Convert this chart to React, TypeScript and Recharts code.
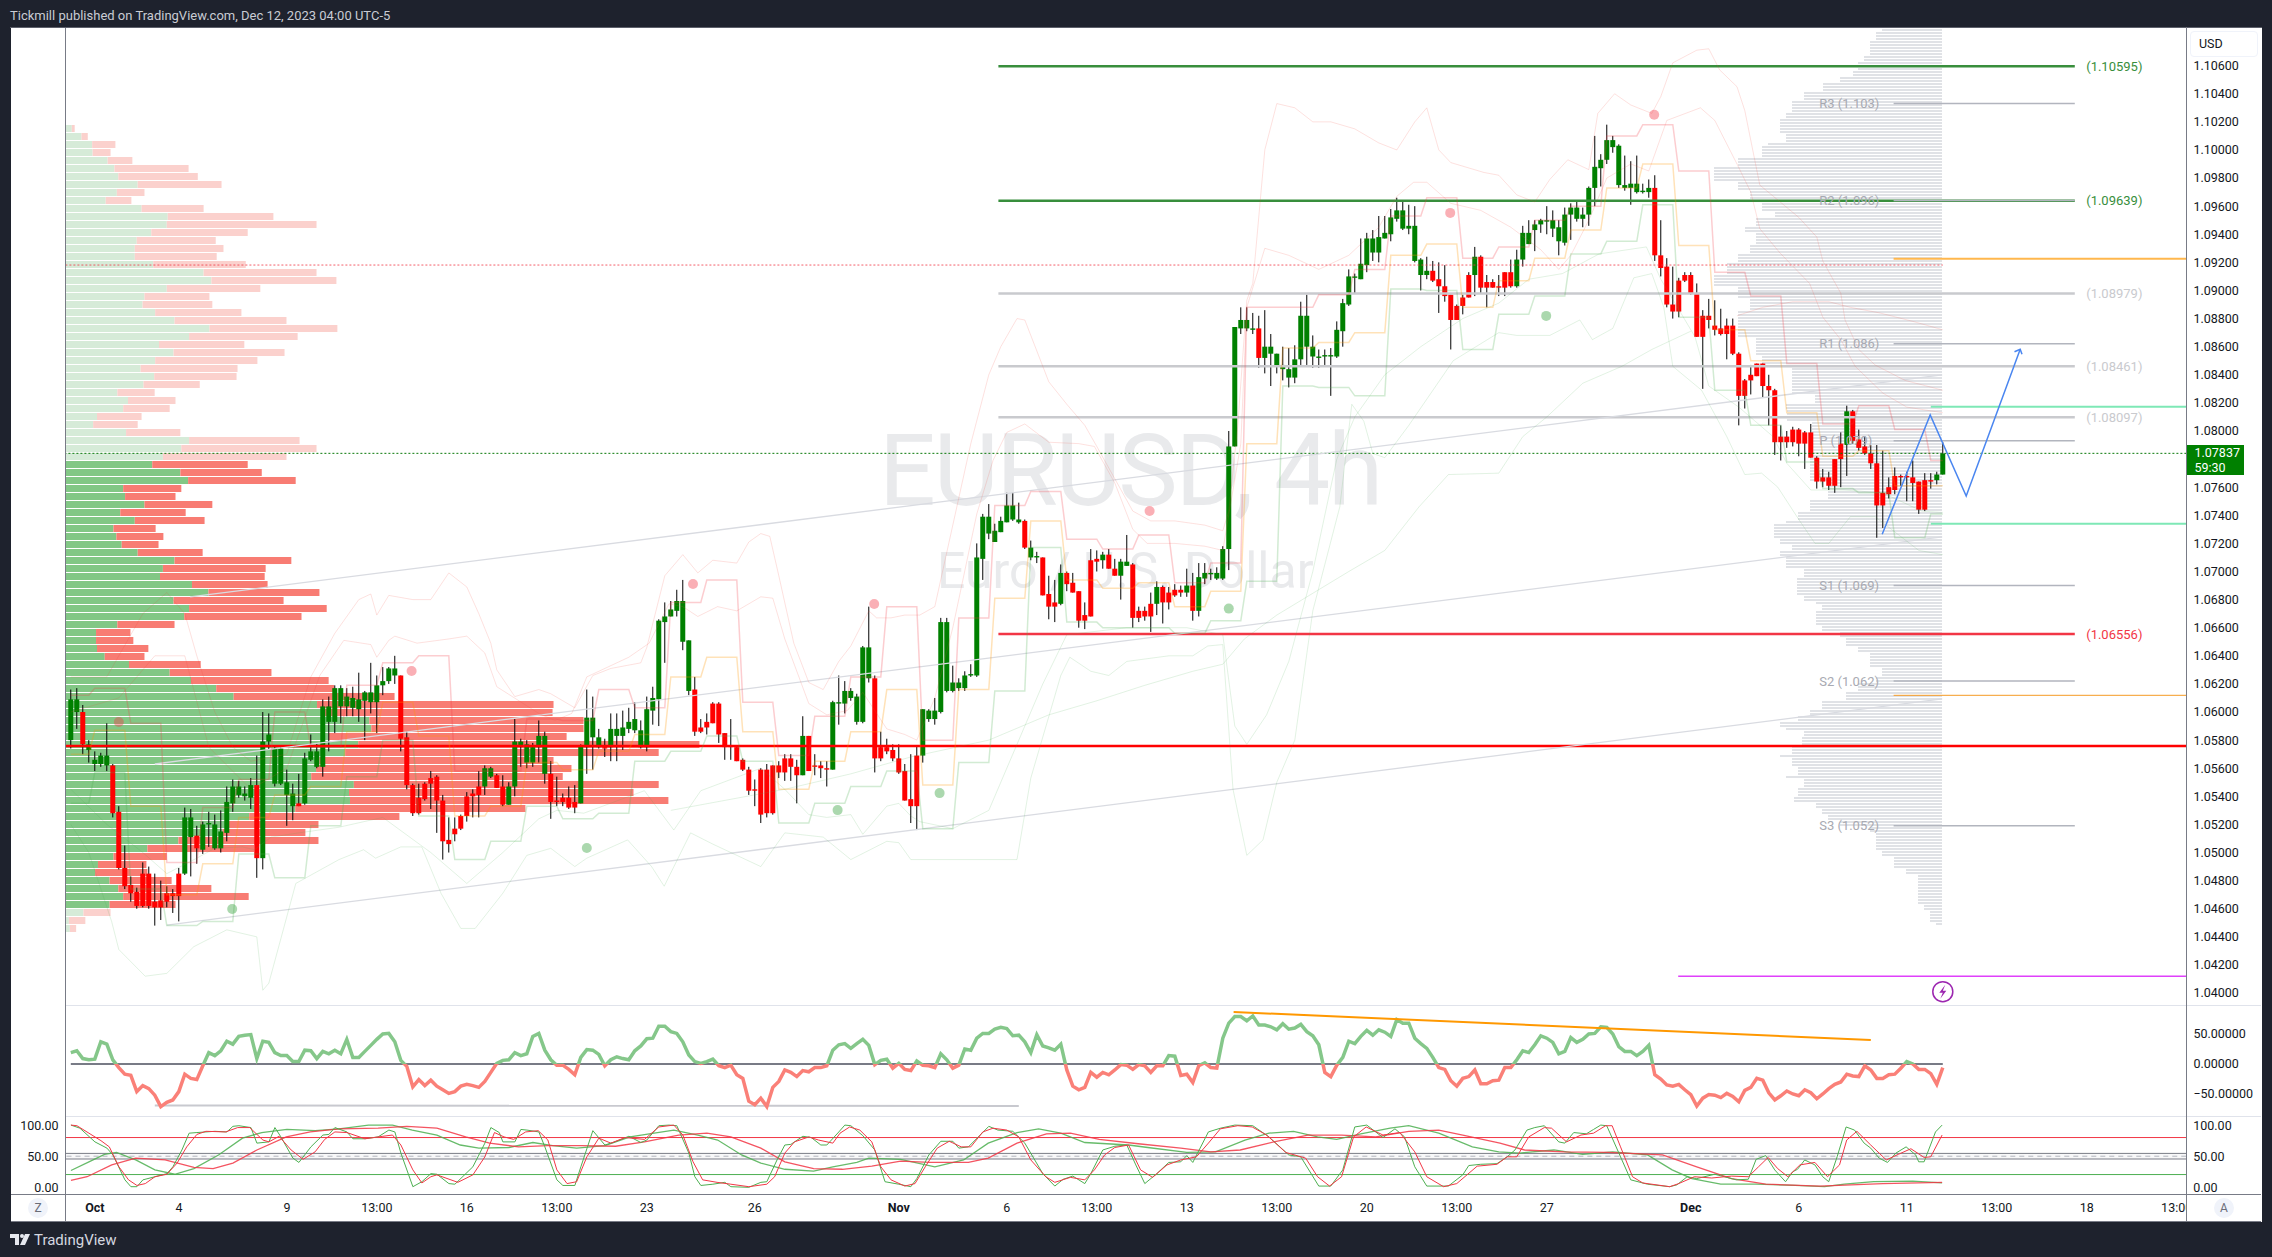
import { BarChart, Bar, Cell, ComposedChart, Line, ReferenceArea, ReferenceDot, ReferenceLine, Scatter, XAxis, YAxis } from "recharts";

// quotes in 1/10000 of a dollar, one entry per 4h bar
const opens = [10580,10600,10600,10573,10563,10563,10562,10562,10529,10489,10477,10472,10485,10485,10465,10466,10471,10471,10485,10485,10511,10512,10502,10520,10503,10503,10514,10535,10541,10540,10539,10548,10496,10579,10549,10549,10541,10533,10535,10535,10566,10561,10561,10593,10593,10604,10604,10603,10602,10608,10607,10607,10619,10622,10626,10626,10582,10548,10539,10549,10553,10554,10537,10509,10517,10526,10540,10542,10547,10547,10554,10555,10547,10534,10547,10576,10564,10564,10575,10556,10556,10537,10539,10539,10536,10535,10575,10582,10575,10575,10575,10583,10583,10588,10587,10575,10575,10601,10609,10664,10668,10672,10650,10615,10616,10589,10593,10606,10606,10585,10576,10575,10566,10559,10545,10559,10559,10562,10562,10567,10567,10561,10555,10583,10562,10562,10560,10559,10606,10606,10610,10593,10593,10624,10624,10575,10575,10573,10567,10558,10538,10569,10569,10595,10595,10600,10615,10615,10617,10617,10626,10626,10709,10727,10721,10728,10735,10737,10735,10736,10710,10710,10710,10684,10678,10677,10699,10692,10686,10669,10708,10709,10708,10712,10702,10697,10704,10705,10672,10672,10677,10677,10689,10685,10687,10687,10685,10690,10672,10695,10698,10695,10695,10716,10789,10873,10873,10872,10873,10852,10855,10846,10844,10838,10838,10851,10860,10853,10852,10853,10853,10853,10871,10890,10909,10908,10918,10927,10927,10937,10940,10951,10944,10944,10921,10911,10911,10914,10908,10903,10897,10889,10895,10911,10911,10924,10906,10906,10903,10913,10913,10903,10922,10933,10943,10947,10949,10944,10935,10934,10954,10951,10951,10954,10973,10987,10993,11002,10975,10973,10973,10970,10970,10970,10973,10925,10917,10890,10907,10911,10911,10898,10882,10882,10875,10873,10875,10875,10855,10836,10840,10848,10848,10832,10829,10796,10796,10801,10801,10799,10799,10781,10767,10767,10780,10791,10790,10814,10794,10789,10784,10777,10756,10760,10768,10768,10768,10767,10764,10765,10765,10765,10769];
const closes = [10609,10609,10577,10577,10566,10569,10569,10528,10489,10476,10471,10462,10462,10462,10461,10461,10465,10469,10469,10525,10525,10503,10520,10521,10520,10515,10536,10547,10547,10542,10548,10496,10579,10584,10574,10574,10550,10542,10533,10567,10572,10572,10604,10604,10617,10617,10611,10610,10609,10614,10614,10619,10622,10631,10631,10581,10548,10528,10528,10538,10549,10537,10508,10506,10513,10517,10526,10540,10541,10560,10560,10546,10534,10547,10579,10579,10577,10575,10583,10583,10536,10536,10536,10532,10532,10576,10596,10596,10582,10574,10588,10588,10589,10593,10595,10587,10602,10610,10665,10668,10673,10679,10679,10651,10586,10586,10589,10592,10584,10575,10575,10565,10559,10544,10544,10527,10528,10528,10557,10557,10561,10555,10583,10558,10561,10560,10559,10607,10607,10615,10615,10611,10646,10646,10567,10567,10572,10567,10557,10537,10533,10533,10602,10601,10601,10664,10664,10621,10621,10626,10627,10710,10739,10739,10729,10736,10747,10747,10737,10717,10717,10711,10683,10675,10675,10699,10691,10685,10665,10665,10668,10707,10712,10702,10697,10707,10707,10667,10667,10668,10668,10689,10678,10678,10683,10685,10690,10672,10696,10699,10699,10699,10716,10789,10874,10879,10879,10873,10852,10860,10860,10855,10847,10844,10851,10882,10882,10860,10853,10854,10854,10872,10891,10910,10910,10919,10937,10937,10938,10941,10952,10957,10957,10946,10946,10922,10914,10907,10903,10896,10879,10879,10889,10895,10924,10902,10902,10902,10902,10902,10903,10922,10941,10941,10947,10950,10950,10950,10945,10954,10959,10959,10954,10973,10988,10993,11007,11007,11003,10975,10976,10976,10971,10973,10925,10916,10890,10885,10885,10907,10898,10867,10867,10879,10872,10869,10869,10855,10825,10825,10836,10839,10832,10829,10792,10792,10792,10792,10791,10791,10781,10764,10764,10761,10761,10780,10814,10793,10788,10784,10777,10747,10747,10755,10758,10767,10767,10763,10744,10744,10764,10769,10784];
const highs = [10616,10617,10605,10580,10572,10571,10592,10563,10533,10505,10483,10475,10493,10490,10485,10480,10476,10474,10489,10532,10531,10519,10522,10529,10527,10530,10547,10552,10551,10547,10553,10569,10600,10599,10575,10575,10559,10549,10556,10571,10584,10578,10609,10611,10619,10619,10617,10618,10628,10615,10635,10626,10632,10632,10640,10626,10586,10549,10549,10550,10558,10555,10541,10525,10525,10527,10543,10545,10558,10562,10561,10556,10555,10550,10595,10581,10580,10578,10594,10586,10565,10554,10542,10547,10548,10577,10616,10611,10588,10581,10599,10599,10601,10603,10607,10594,10611,10618,10666,10678,10679,10687,10694,10651,10625,10595,10599,10607,10607,10585,10595,10576,10567,10561,10552,10560,10563,10562,10565,10570,10570,10566,10597,10583,10570,10565,10565,10608,10626,10622,10617,10613,10647,10675,10626,10586,10581,10577,10577,10563,10570,10576,10602,10602,10610,10667,10667,10633,10624,10629,10634,10720,10741,10748,10734,10739,10756,10756,10749,10737,10722,10714,10710,10697,10694,10705,10700,10699,10686,10678,10716,10715,10714,10716,10709,10709,10726,10706,10675,10675,10685,10693,10690,10689,10691,10690,10702,10699,10706,10706,10702,10703,10718,10800,10874,10888,10888,10884,10882,10886,10869,10855,10860,10859,10861,10892,10897,10868,10858,10858,10859,10878,10894,10915,10912,10937,10941,10943,10953,10953,10958,10966,10964,10961,10960,10923,10924,10921,10920,10918,10897,10890,10897,10913,10931,10925,10911,10908,10911,10913,10922,10929,10946,10950,10950,10951,10960,10957,10950,10959,10962,10963,10959,10974,11010,10997,11018,11010,11004,10996,10992,10996,10976,10979,10982,10950,10923,10917,10909,10913,10913,10905,10886,10894,10893,10887,10880,10880,10856,10837,10847,10848,10848,10840,10830,10804,10800,10803,10802,10800,10805,10782,10773,10771,10780,10799,10818,10815,10801,10796,10790,10790,10786,10767,10774,10769,10771,10779,10764,10770,10770,10771,10792];
const lows = [10574,10588,10570,10564,10558,10561,10558,10525,10488,10474,10465,10460,10461,10460,10448,10452,10461,10457,10451,10484,10483,10492,10499,10504,10502,10500,10508,10529,10539,10537,10531,10482,10488,10573,10547,10548,10519,10523,10533,10534,10565,10560,10554,10572,10585,10592,10597,10597,10593,10580,10599,10585,10612,10620,10620,10572,10545,10526,10527,10537,10531,10514,10495,10500,10508,10516,10522,10525,10525,10541,10553,10546,10533,10534,10540,10561,10560,10561,10564,10549,10524,10533,10533,10531,10528,10535,10556,10559,10574,10568,10565,10565,10573,10585,10585,10574,10572,10591,10590,10635,10668,10668,10644,10612,10583,10585,10584,10592,10578,10566,10566,10565,10558,10541,10533,10521,10525,10527,10553,10551,10551,10535,10555,10558,10555,10553,10547,10559,10591,10599,10608,10591,10592,10621,10557,10565,10570,10565,10556,10537,10521,10516,10564,10593,10591,10599,10614,10614,10615,10615,10625,10625,10694,10723,10721,10728,10735,10736,10734,10716,10708,10706,10683,10666,10664,10676,10686,10685,10660,10659,10668,10700,10702,10702,10697,10680,10704,10660,10664,10665,10657,10669,10663,10673,10682,10682,10682,10665,10668,10691,10694,10694,10694,10701,10789,10869,10871,10869,10845,10841,10832,10841,10836,10831,10834,10847,10847,10845,10845,10847,10825,10852,10860,10889,10898,10908,10913,10921,10920,10937,10935,10949,10943,10940,10920,10900,10908,10906,10884,10892,10858,10879,10883,10895,10896,10898,10888,10902,10896,10896,10902,10902,10917,10933,10928,10941,10940,10938,10925,10932,10936,10949,10945,10946,10960,10974,10990,10998,10973,10971,10961,10969,10969,10966,10921,10910,10888,10880,10881,10906,10897,10867,10830,10873,10868,10868,10851,10854,10804,10816,10826,10839,10824,10804,10783,10779,10788,10789,10782,10773,10781,10759,10760,10758,10756,10760,10768,10791,10786,10783,10773,10724,10731,10752,10755,10761,10750,10750,10741,10743,10759,10762,10769];

// previous-day high / mid / low, one entry per trading day
const dayHighs = [10612,10617,10592,10493,10532,10552,10600,10575,10619,10635,10640,10558,10558,10595,10594,10616,10603,10678,10694,10607,10569,10597,10625,10675,10580,10667,10747,10757,10723,10716,10726,10692,10706,10888,10888,10897,10915,10953,10966,10923,10931,10950,10960,11010,11018,10985,10913,10896,10848,10805,10818,10801,10779];
const dayMids = [10570,10587,10533,10470,10492,10525,10541,10547,10586,10607,10583,10526,10533,10564,10559,10572,10584,10625,10639,10586,10545,10565,10586,10616,10548,10616,10681,10736,10694,10688,10692,10675,10686,10791,10859,10863,10870,10925,10933,10888,10907,10923,10943,10973,10990,10932,10872,10850,10813,10782,10786,10761,10761];
const dayLows = [10535,10557,10474,10448,10451,10499,10482,10519,10554,10580,10526,10495,10508,10533,10524,10528,10565,10572,10583,10565,10521,10535,10547,10558,10517,10564,10615,10717,10664,10660,10660,10656,10665,10693,10832,10831,10825,10901,10900,10858,10883,10896,10926,10935,10961,10881,10829,10804,10778,10759,10756,10724,10741];

// faint envelope lines: [bar, quote]
const upperOuter = [[0,10625],[6,10625],[12,10670],[16,10685],[19,10670],[21,10640],[24,10600],[27,10575],[30,10565],[36,10570],[40,10625],[44,10656],[48,10680],[50,10684],[51,10669],[53,10683],[57,10680],[60,10680],[63,10699],[66,10689],[68,10670],[70,10649],[71,10630],[74,10611],[78,10616],[80,10613],[84,10603],[87,10626],[90,10631],[95,10635],[96,10646],[99,10697],[102,10712],[104.5,10699],[107,10708],[111,10706],[113,10721],[115,10727],[116.5,10725],[118,10697],[120.5,10649],[123,10621],[125.4,10616],[128,10636],[130,10647],[133,10672],[134.3,10667],[136.7,10667],[139,10669],[141.5,10669],[144,10675],[150,10791],[153,10840],[155,10860],[157.7,10880],[159,10879],[163,10835],[166,10819],[169,10804],[171,10789],[177,10743],[180,10736],[184,10736],[189,10733],[192,10729],[193,10743],[194.5,10804],[196,10893],[197,10905],[199,11000],[201,11033],[204,11030],[207,11020],[210,11020],[214,11015],[218,11005],[221,11000],[224,11020],[226,11030],[228,11000],[230,10991],[235.5,10984],[238,10982],[241,10968],[244,10963],[246.5,10979],[249.5,10993],[253,10986],[254.5,11026],[257.3,11040],[260,11032],[263.5,11026],[265,11038],[267,11062],[271,11071],[273,11072],[274.8,11057],[277.7,11045],[279,11028],[281.5,10975],[288,10952],[291,10938],[292,10921],[295,10898],[295.7,10879],[298,10858],[300.7,10847],[305.7,10836],[312,10829]];
const upperInner = [[0,10600],[8,10610],[14,10640],[19,10640],[23,10575],[30,10545],[36,10560],[41.5,10626],[45.5,10651],[50,10648],[51,10639],[53,10651],[54,10654],[57.7,10649],[63,10652],[66,10654],[69,10642],[71,10618],[78,10599],[80.7,10594],[83.5,10599],[86,10625],[93,10639],[96.4,10649],[99.7,10677],[102,10675],[104.5,10668],[107.8,10675],[111,10672],[115,10682],[117,10681],[119,10652],[123,10606],[126,10598],[129.4,10601],[132,10614],[136,10588],[139,10584],[141,10580],[144,10610],[147,10660],[151,10741],[153.7,10779],[156,10799],[159,10805],[163,10792],[168,10791],[170.6,10789],[174,10763],[177,10730],[179.4,10720],[184,10720],[189,10718],[192,10715],[195,10791],[196,10888],[199,10930],[203,10925],[208,10915],[213,10925],[218,10945],[221,10967],[223.8,10977],[226,10977],[230,10962],[235,10957],[240,10945],[245,10929],[248,10915],[250,10925],[253,10950],[256,10980],[260,10990],[263,10985],[266,11021],[271.6,11030],[274,11021],[277.7,10990],[280,10970],[281.5,10944],[284.8,10927],[289.8,10905],[292,10881],[295,10865],[297.4,10846],[302,10827],[306,10817],[312,10813]];
const upperFlat = [[277.7,10882],[282,10888],[287,10892],[293,10892],[296.6,10888],[301.5,10884],[307,10878],[312,10872]];
const lowerOuter = [[0,10520],[3,10500],[6.8,10451],[8,10431],[12.4,10412],[16,10414],[20.5,10433],[26,10445],[31,10440],[32,10402],[33,10407],[37.5,10478],[44.7,10495],[48.8,10502],[50.8,10496],[55,10504],[58.5,10504],[61.7,10471],[65,10446],[67.4,10446],[72,10471],[76,10498],[80,10503],[84,10490],[86,10496],[92.8,10509],[96.8,10490],[98.9,10476],[103.3,10514],[107,10506],[115,10490],[119,10514],[125.4,10511],[130,10495],[136,10508],[138,10507],[140,10495],[151,10495],[157.7,10495],[160,10553],[165,10626],[166.5,10639],[170,10629],[173,10626],[176,10636],[183,10640],[187,10640],[189.5,10647],[192,10648],[193.7,10545],[196,10498],[198.7,10509],[201,10550],[204,10580],[207,10672],[211.5,10746],[213.5,10819],[215.5,10807],[217,10784],[219,10781],[223,10804],[230.4,10850],[238,10870],[241,10868],[246.5,10868],[251.5,10879],[253.6,10865],[257,10873],[260.5,10909],[263.5,10912],[265.5,10888],[267,10846],[271.8,10829],[276,10796],[279,10769],[281.8,10770],[284.5,10760],[288,10737],[290.7,10720],[293,10720],[296.6,10739],[300.7,10739],[308,10715],[312,10712]];
const lowerInner = [[0,10545],[6,10520],[12,10500],[16,10485],[21,10496],[24,10503],[28.6,10504],[30.6,10502],[33.4,10511],[38,10514],[44.7,10518],[52,10525],[60,10500],[66,10478],[72,10500],[78,10524],[81,10530],[85.5,10528],[95.6,10544],[100.5,10516],[105,10544],[115,10560],[119,10545],[123,10527],[126,10525],[130,10527],[132,10513],[136,10533],[138,10535],[140,10526],[141.5,10522],[147,10517],[153,10530],[157,10570],[162,10620],[166,10655],[176,10660],[186,10660],[192,10655],[194,10590],[196,10577],[199.3,10598],[203,10636],[207,10700],[211,10780],[214,10810],[219,10840],[225,10860],[232,10880],[238,10891],[243,10908],[248.6,10912],[254.7,10926],[262.6,10931],[265,10908],[270.7,10867],[273,10832],[278,10817],[283.7,10796],[286,10777],[290,10758],[295.5,10758],[302,10756],[308.5,10743],[312,10742]];
const slowAverage = [[100,10530],[119,10545],[130,10556],[140,10568],[153,10580],[163,10598],[171,10608],[179,10619],[187,10629],[192,10634],[195.6,10652],[201,10669],[213,10700],[219,10715],[224.7,10746],[229.6,10769],[238,10770],[242,10796],[246,10810],[252,10834],[258.5,10846],[263.5,10858],[270,10871]];

// left volume profile, top row first
const volumeUp = [14,34,56,57,88,102,110,150,107,84,158,212,210,178,148,144,144,182,286,302,210,164,160,186,226,298,256,194,224,186,156,184,162,108,130,120,66,58,126,256,240,202,180,238,254,120,124,164,114,144,100,106,117,150,226,202,196,262,296,224,256,246,108,64,64,66,82,132,216,260,312,348,520,536,628,632,544,605,578,525,518,508,596,586,588,475,380,335,325,234,170,100,68,62,92,110,120,92,38,8,10];
const volumeDown = [6,13,48,37,51,153,164,173,57,53,128,218,309,199,163,183,169,191,233,258,193,134,144,178,231,264,224,176,229,211,200,170,116,77,98,96,92,92,112,228,279,255,197,168,222,120,104,140,135,144,87,97,76,134,241,212,216,156,229,227,284,242,118,71,77,106,82,148,210,284,243,332,488,470,442,438,491,704,647,483,527,519,629,587,657,475,310,188,171,289,220,110,100,108,128,192,259,136,56,34,13];
const valueAreaRows = [42, 97];

// right volume profile as runs of equal rows
const profileRuns = [1,3,5,2,3,2,2,3,3,4,2,3,2,3,1,4,3,5,3,3,4,2,3,2,4,3,3,4,4,4,4,9,6,4,9,3,2,4,11,9,6,4,3,1,5,2,2,2,4,3,6,2,1,2,5,2,2,3,2,5,3,2,3,3,3,2,2,2,1,2,3,3,1,3,3,1,3,3,2,2,2,2,2,2,6,2,4,2,10,2,4,1];
const profileVolume = [60,66,72,78,84,89,102,119,138,150,156,162,162,156,174,180,204,228,204,192,180,167,186,197,186,192,204,215,228,204,192,204,186,180,150,127,156,155,130,132,114,132,144,156,168,162,150,162,156,138,145,138,126,120,126,120,102,96,84,72,60,66,84,96,120,132,144,162,156,138,140,150,162,150,144,156,138,144,148,126,120,114,102,72,66,60,48,36,24,18,12,6];

// momentum oscillator, one entry per bar
const oscillator = [19,22,9,7,8,37,33,7,-6,-17,-19,-46,-36,-41,-52,-71,-64,-60,-46,-17,-24,-26,-3,19,14,22,38,33,46,48,49,9,38,36,19,14,14,4,4,23,22,9,21,17,23,17,41,11,11,21,31,41,50,51,37,6,-4,-38,-26,-36,-27,-37,-43,-49,-46,-37,-34,-36,-39,-29,-14,1,6,7,19,14,17,46,51,23,7,-2,-2,-9,-18,11,24,23,16,-3,7,12,9,7,22,30,42,43,63,63,54,51,37,15,4,1,4,8,-3,-6,-2,-18,-24,-62,-68,-57,-71,-39,-29,-10,-14,-21,-11,-13,-6,-6,-3,23,32,34,26,34,41,31,-1,6,8,-7,1,-9,-11,5,-2,-3,-6,17,7,-7,-2,25,23,43,51,51,58,61,59,47,48,37,19,49,30,27,23,33,-10,-37,-43,-39,-14,-22,-14,-18,-10,-1,-2,-9,-1,-3,-14,-3,-3,14,13,-19,-17,-31,-3,2,-6,-7,43,68,79,79,72,80,65,65,62,57,67,58,60,66,54,47,32,-14,-21,-2,11,38,34,46,56,48,57,53,46,74,68,68,43,34,26,11,-6,-9,-28,-37,-24,-21,-10,-33,-33,-28,-27,-6,-6,7,22,19,32,47,43,36,17,21,44,36,41,50,51,62,61,50,29,21,21,14,21,31,-18,-25,-35,-37,-34,-43,-51,-70,-57,-51,-52,-56,-49,-54,-63,-44,-39,-24,-27,-48,-60,-53,-45,-50,-53,-43,-48,-58,-50,-41,-34,-30,-17,-20,-21,-3,-10,-24,-24,-18,-17,-7,4,0,-9,-9,-16,-34,-6];

// stochastic pairs: [bar, value]
const fastK = [[0,100],[1.5,95],[4,73],[6,63],[7,52],[9,12],[10,1],[11,1],[12,12],[14,17],[16,22],[17,33],[18.5,60],[19.7,87],[21,88],[24,90],[26,89],[27,98],[28,99],[30,96],[31,71],[33,73],[34,96],[35,81],[37,47],[38,40],[40,65],[42,84],[43,85],[44,96],[46,89],[47,78],[49,78],[51.2,81],[53,92],[54,89],[55,55],[57,1],[58.5,9],[60,22],[61,21],[63,6],[64,5],[67,33],[69,71],[70,96],[71.4,88],[72,73],[74,73],[75,93],[76,92],[78,89],[79,65],[81,12],[82,3],[84,3],[85,33],[87,91],[89,68],[90.4,72],[93,82],[95,72],[96,76],[98,99],[99.7,100],[101,99],[103,55],[104,17],[105,3],[107,5],[109,8],[110,1],[113,0],[115,8],[116,9],[117.7,44],[119,68],[120,69],[122,82],[123.4,80],[125,68],[126,68],[128,89],[129,100],[130,99],[132,83],[134,60],[135.7,9],[138,5],[140,1],[141,14],[143,52],[145,74],[147,74],[148,63],[149.6,65],[153,98],[154.5,92],[157,90],[159,71],[162,22],[164,2],[165.4,13],[167,18],[169,6],[170,22],[172,60],[174,66],[176,68],[177.5,36],[179,6],[181,22],[183,40],[185,41],[186,51],[187,40],[189.6,89],[191.6,95],[194,100],[197,99],[199.7,81],[203,52],[205,49],[208,2],[210,2],[212,28],[214,97],[216,100],[218.7,80],[220.7,94],[222.3,81],[224,33],[226,2],[229.6,2],[232,20],[233,35],[235,37],[237.7,38],[239.4,49],[240.7,60],[242.7,92],[244,96],[245.6,99],[248,73],[249,71],[250.5,88],[252.6,86],[253.8,93],[255,100],[256,99],[260,12],[262.8,5],[266.5,1],[267.7,4],[269.4,17],[271,14],[274,21],[277.6,12],[279.6,13],[280.9,45],[282.5,51],[284,28],[285.8,9],[287,25],[287.8,29],[289,44],[290.7,36],[292,17],[293,9],[294.4,49],[295.9,97],[297.3,92],[298.9,71],[300,63],[301.4,47],[302.8,40],[304.2,55],[305.9,65],[307.5,52],[308,41],[308.9,41],[310.8,89],[311.9,100]];
const fastD = [[0,100],[1,99],[3,87],[5,75],[6.4,65],[8,33],[9.6,12],[11,3],[12.4,6],[14,17],[16,21],[17.7,39],[19.3,65],[21,85],[22.5,90],[25.8,89],[27.8,96],[29.8,96],[32,76],[33,73],[34.7,82],[36.7,60],[38.7,45],[40.7,57],[42.3,77],[44,89],[46,88],[49,78],[52,82],[53.6,84],[55,68],[57,28],[58.5,7],[60,17],[61,20],[64.5,8],[67,20],[69,49],[70.6,88],[72.2,81],[73.8,77],[75.8,89],[77.9,91],[79.5,76],[81,28],[82.7,6],[84.3,9],[86,49],[88,79],[90,71],[92.4,80],[95.6,77],[98,97],[100.5,100],[102,84],[103.7,41],[105.3,12],[107.7,8],[110,5],[113,1],[116,5],[117.3,17],[119,55],[120.6,73],[123,81],[124.6,76],[127,71],[128.2,87],[129.8,97],[131.5,92],[133.5,73],[135,33],[136.7,12],[139,2],[140.7,6],[142.4,33],[144.4,63],[146.4,74],[148.4,65],[150,65],[152,89],[153.7,95],[156,92],[158,81],[160,44],[162.5,17],[164,8],[166.6,16],[169,12],[170.6,28],[172.3,52],[174,64],[176.3,68],[178.3,28],[180.3,16],[182.7,36],[185,44],[187.6,49],[189.6,71],[191.6,94],[194.5,99],[196.9,97],[199.3,84],[202.5,56],[205.8,47],[207.8,17],[209.8,2],[211.8,17],[213.8,81],[215.9,97],[218.7,84],[221.5,88],[224,57],[226,17],[228.8,1],[231,6],[234.4,34],[237.7,37],[239.4,49],[241,49],[243,81],[245.6,96],[246.8,95],[249.3,73],[251.7,84],[253.8,87],[255.8,99],[256.9,99],[258.3,65],[260.3,17],[262,7],[266.5,1],[268,6],[270.6,17],[273.5,15],[276.8,18],[279.6,17],[281.3,33],[282.9,48],[284.5,30],[286.2,17],[288.2,36],[290.7,40],[292.8,17],[294.8,36],[296,76],[297.7,90],[300,68],[302.6,44],[304.6,53],[306.7,62],[308.9,48],[310,49],[311.9,84]];
const slowK = [[0,27],[3,41],[5.6,53],[7.6,56],[10.8,44],[14,28],[17.3,21],[20.5,30],[24.6,52],[28.6,79],[31.8,88],[36,93],[40.7,91],[44.7,94],[49.6,100],[53.6,100],[56.9,92],[61,84],[64.9,68],[68,63],[73,64],[77,72],[80.3,67],[84.3,63],[89,67],[93.2,81],[96.4,86],[100.5,92],[104.5,84],[107.8,76],[111.8,52],[115,39],[119,29],[123.8,26],[127,33],[131,40],[133,47],[138.3,45],[144,33],[148.8,44],[152.9,71],[157.7,88],[161.3,94],[165,87],[169,72],[176.3,68],[179.5,64],[186,56],[190.8,57],[195.7,76],[199.7,87],[203.8,90],[207.8,81],[211,77],[215,86],[219.9,95],[223,99],[228,87],[233.6,65],[238,57],[241.5,55],[247.2,60],[252,53],[257,57],[262.8,52],[266.9,28],[270.2,14],[275,5],[280.9,5],[287.4,3],[292.3,1],[295.6,5],[300.5,9],[307,10],[311.9,7]];
const slowD = [[0,11],[2.7,17],[6.8,36],[10.8,47],[15.7,44],[20.5,32],[23.7,30],[27,39],[31,60],[35.9,81],[39.9,89],[44.7,94],[51.2,95],[56,98],[61,95],[65.8,81],[69.8,71],[74.6,65],[79.5,67],[85,67],[90.8,66],[95.6,73],[101.3,84],[106,87],[110,81],[115,63],[119,41],[123.8,30],[128.6,29],[133.5,34],[138.3,42],[143.2,40],[149.6,40],[152.9,47],[157.7,71],[162.6,86],[166.6,87],[171.4,77],[177.9,70],[185,63],[190,57],[194.9,60],[200.5,73],[206.2,84],[211.8,84],[217.5,81],[223,90],[228,92],[232,84],[238.2,71],[242.3,60],[248.9,57],[256.2,56],[265.3,52],[271,33],[276.8,14],[282.5,5],[291.5,2],[302,6],[311.9,8]];

// drawings on the price pane
const zonePrices = [1.10595, 1.09639, 1.08979, 1.08461, 1.08097, 1.06556];
const zoneColors = ["#388e3c", "#388e3c", "#c9cace", "#c9cace", "#c9cace", "#f23645"];
const pivotNames = ["R3", "R2", "R1", "P", "S1", "S2", "S3"];
const pivotPrices = [1.1033, 1.0964, 1.0862, 1.0793, 1.069, 1.0622, 1.0519];
const pivotLabels = ["1.103", "1.096", "1.086", "1.079", "1.069", "1.062", "1.052"];
const trendLines = [[16, 1.04484, 311.9, 1.06093], [14, 1.0563, 311.9, 1.07246], [19.9, 1.06819, 311.9, 1.08399]];
const highMarks = [[8, 1.05929], [56.8, 1.06292], [103.7, 1.06911], [133.9, 1.06769], [179.8, 1.07431], [229.9, 1.09552], [263.9, 1.10251]];
const lowMarks = [[26.9, 1.04598], [86, 1.05032], [127.8, 1.05302], [144.8, 1.05423], [193, 1.06736], [245.9, 1.08819]];
const forecastPath = [[301.9, 1.07265], [309.9, 1.08114], [315.9, 1.07537], [324.9, 1.08582]];
const arrowHead = [[323.95, 1.08564], [324.9, 1.08582], [325.2, 1.08546]];

const priceTicks = [1.04,1.042,1.044,1.046,1.048,1.05,1.052,1.054,1.056,1.058,1.06,1.062,1.064,1.066,1.068,1.07,1.072,1.074,1.076,1.08,1.082,1.084,1.086,1.088,1.09,1.092,1.094,1.096,1.098,1.1,1.102,1.104,1.106];
const timeTicks = [4,18,36,51,66,81,96,114,138,156,171,186,201,216,231,246,270,288,306,321,336,351];
const timeLabels = ["Oct","4","9","13:00","16","13:00","23","26","Nov","6","13:00","13","13:00","20","13:00","27","Dec","6","11","13:00","18","13:00"];
const monthLabels = ["Oct", "Nov", "Dec"];

const barDomain = [-0.9, 352.6];
const FONT = "Roboto, sans-serif";

const toQuotes = (pts: number[][]) => pts.map(([x, v]) => ({ x, v: v / 10000 }));
const toPoints = (pts: number[][]) => pts.map(([x, v]) => ({ x, v }));

const barRows = opens.map((o, i) => {
  const day = i < 4 ? 0 : Math.floor((i - 4) / 6) + 1;
  return {
    x: i,
    o: o / 10000,
    h: highs[i] / 10000,
    l: lows[i] / 10000,
    c: closes[i] / 10000,
    range: [lows[i] / 10000, highs[i] / 10000],
    dayHigh: dayHighs[day] / 10000,
    dayMid: dayMids[day] / 10000,
    dayLow: dayLows[day] / 10000,
    osc: oscillator[i],
  };
});

const leftRows = volumeUp.map((up, i) => ({ row: i, up, down: volumeDown[i] }));
const profileRows = profileRuns.flatMap((count, i) =>
  Array.from({ length: count }, () => ({ volume: profileVolume[i] }))
).map((r, i) => ({ ...r, row: i }));

const Candle = (props: any) => {
  const { x, y, width, height, payload } = props;
  const { o, h, l, c } = payload;
  const top = Math.min(y, y + height);
  const span = Math.abs(height);
  const perUnit = h > l ? span / (h - l) : 0;
  const bodyTop = top + (h - Math.max(o, c)) * perUnit;
  const bodyHeight = Math.max(Math.abs(o - c) * perUnit, 1);
  const mid = x + width / 2;
  return (
    <g>
      <line x1={mid} x2={mid} y1={top} y2={top + span} stroke="#000" strokeWidth={1} />
      <rect x={mid - 2.5} y={bodyTop} width={5} height={bodyHeight} fill={c >= o ? "#008000" : "#ff0000"} />
    </g>
  );
};

const TimeTick = (props: any) => {
  const { x, y, payload } = props;
  const label = timeLabels[timeTicks.indexOf(payload.value)];
  const isMonth = monthLabels.includes(label);
  return (
    <text x={x} y={y + 10} textAnchor="middle" fontSize={12.5} fontFamily={FONT} fontWeight={isMonth ? 700 : 400} fill="#131722">
      {label}
    </text>
  );
};

const Bolt = (props: any) => {
  const { cx, cy } = props;
  return (
    <g>
      <circle cx={cx} cy={cy} r={10} fill="#fff" stroke="#9c27b0" strokeWidth={1.5} />
      <path d={`M${cx + 2.5} ${cy - 7} L${cx - 3.5} ${cy + 1} H${cx} L${cx - 2.5} ${cy + 7} L${cx + 3.5} ${cy - 1} H${cx} Z`} fill="#9c27b0" />
    </g>
  );
};

const Mark = (color: string) => (props: any) => (
  <circle cx={props.cx} cy={props.cy} r={5} fill={color} fillOpacity={0.4} />
);

const frameLine = (style: any) => <div style={{ position: "absolute", ...style }} />;

const App = () => {
  return (
    <div style={{ position: "absolute", left: 0, top: 0, width: 2272, height: 1257, background: "#1e222d", fontFamily: FONT, overflow: "hidden" }}>
      <div style={{ position: "absolute", left: 10, top: 8, fontSize: 13, color: "#c9ccd4", whiteSpace: "nowrap" }}>
        Tickmill published on TradingView.com, Dec 12, 2023 04:00 UTC-5
      </div>

      <div style={{ position: "absolute", left: 10.5, top: 27, width: 2251, height: 1195, background: "#fff" }} />

      <div style={{ position: "absolute", left: 879, top: 413, fontSize: 100, lineHeight: "116px", color: "#e9eaec", whiteSpace: "nowrap", letterSpacing: -2.2 }}>
        EURUSD, 4h
      </div>
      <div style={{ position: "absolute", left: 937, top: 541, fontSize: 50, lineHeight: "60px", color: "#e9eaec", whiteSpace: "nowrap" }}>
        Euro / U.S. Dollar
      </div>

      <div style={{ position: "absolute", left: 1542, top: 28 }}>
        <BarChart layout="vertical" width={400} height={897} data={profileRows} margin={{ top: 0, right: 0, bottom: 0, left: 0 }} barCategoryGap={0}>
          <XAxis type="number" hide reversed domain={[0, 400]} />
          <YAxis type="category" dataKey="row" hide />
          <Bar dataKey="volume" barSize={2} fill="#e0e2e6" isAnimationActive={false} />
        </BarChart>
      </div>

      <div style={{ position: "absolute", left: 65.4, top: 124.3 }}>
        <BarChart layout="vertical" width={900} height={808} data={leftRows} margin={{ top: 0, right: 0, bottom: 0, left: 0 }} barCategoryGap={0}>
          <XAxis type="number" hide domain={[0, 1857]} />
          <YAxis type="category" dataKey="row" hide />
          <Bar dataKey="up" stackId="v" barSize={7} isAnimationActive={false}>
            {leftRows.map((r) => (
              <Cell key={r.row} fill={r.row >= valueAreaRows[0] && r.row <= valueAreaRows[1] ? "#82c785" : "#d6ebd8"} />
            ))}
          </Bar>
          <Bar dataKey="down" stackId="v" barSize={7} isAnimationActive={false}>
            {leftRows.map((r) => (
              <Cell key={r.row} fill={r.row >= valueAreaRows[0] && r.row <= valueAreaRows[1] ? "#f87c73" : "#fbd1cd"} />
            ))}
          </Bar>
        </BarChart>
      </div>

      <div style={{ position: "absolute", left: 0, top: 27 }}>
        <ComposedChart width={2272} height={978} data={barRows} margin={{ top: 0, right: 10, bottom: 0, left: 65.4 }}>
          <XAxis dataKey="x" type="number" hide domain={barDomain} allowDataOverflow />
          <YAxis
            orientation="right"
            width={75.6}
            domain={[1.03915, 1.10875]}
            ticks={priceTicks}
            interval={0}
            allowDataOverflow
            axisLine={false}
            tickLine={false}
            tickSize={0}
            tickMargin={7}
            tickFormatter={(v: number) => v.toFixed(5)}
            tick={{ fontSize: 12.5, fontFamily: FONT, fill: "#131722" }}
          />

          {zonePrices.map((p, i) => (
            <ReferenceLine key={p} segment={[{ x: 154.6, y: p }, { x: 334, y: p }]} stroke={zoneColors[i]} strokeWidth={2.5} />
          ))}
          {pivotPrices.map((p) => (
            <ReferenceLine key={p} segment={[{ x: 303.8, y: p }, { x: 334, y: p }]} stroke="#b2b5be" strokeWidth={1.5} />
          ))}
          <ReferenceLine y={1.05758} stroke="#ff0000" strokeWidth={2.5} />
          <ReferenceLine segment={[{ x: -0.9, y: 1.09181 }, { x: 312, y: 1.09181 }]} stroke="#f23645" strokeOpacity={0.8} strokeDasharray="2 2" />
          <ReferenceLine y={1.07841} stroke="#0a7a0a" strokeDasharray="2 2" />
          <ReferenceLine segment={[{ x: 303.8, y: 1.09226 }, { x: 352.6, y: 1.09226 }]} stroke="#ffb74d" strokeWidth={2} />
          <ReferenceLine segment={[{ x: 303.8, y: 1.06119 }, { x: 352.6, y: 1.06119 }]} stroke="#f59a23" />
          <ReferenceLine segment={[{ x: 310, y: 1.08173 }, { x: 352.6, y: 1.08173 }]} stroke="#7ee8b6" strokeWidth={2} />
          <ReferenceLine segment={[{ x: 310, y: 1.0734 }, { x: 352.6, y: 1.0734 }]} stroke="#7ee8b6" strokeWidth={2} />
          <ReferenceLine segment={[{ x: 267.9, y: 1.04119 }, { x: 352.6, y: 1.04119 }]} stroke="#e040fb" strokeWidth={1.5} />
          {trendLines.map((t) => (
            <ReferenceLine key={t[0]} segment={[{ x: t[0], y: t[1] }, { x: t[2], y: t[3] }]} stroke="#d9dbe1" strokeWidth={1.3} />
          ))}

          <Line data={toQuotes(upperOuter)} dataKey="v" dot={false} stroke="#f44336" strokeOpacity={0.16} strokeWidth={1} isAnimationActive={false} legendType="none" />
          <Line data={toQuotes(upperInner)} dataKey="v" dot={false} stroke="#f44336" strokeOpacity={0.16} strokeWidth={1} isAnimationActive={false} legendType="none" />
          <Line data={toQuotes(upperFlat)} dataKey="v" dot={false} stroke="#f44336" strokeOpacity={0.16} strokeWidth={1} isAnimationActive={false} legendType="none" />
          <Line data={toQuotes(lowerOuter)} dataKey="v" dot={false} stroke="#4caf50" strokeOpacity={0.16} strokeWidth={1} isAnimationActive={false} legendType="none" />
          <Line data={toQuotes(lowerInner)} dataKey="v" dot={false} stroke="#4caf50" strokeOpacity={0.16} strokeWidth={1} isAnimationActive={false} legendType="none" />
          <Line data={toQuotes(slowAverage)} dataKey="v" dot={false} stroke="#4caf50" strokeOpacity={0.16} strokeWidth={1} isAnimationActive={false} legendType="none" />

          <Line dataKey="dayHigh" dot={false} stroke="#f23645" strokeOpacity={0.25} strokeWidth={1.5} isAnimationActive={false} />
          <Line dataKey="dayMid" dot={false} stroke="#ff9800" strokeOpacity={0.28} strokeWidth={1.5} isAnimationActive={false} />
          <Line dataKey="dayLow" dot={false} stroke="#4caf50" strokeOpacity={0.25} strokeWidth={1.5} isAnimationActive={false} />

          <Bar dataKey="range" barSize={5} shape={Candle} isAnimationActive={false} />

          <Scatter data={highMarks.map(([x, v]) => ({ x, v }))} dataKey="v" shape={Mark("#f23645")} isAnimationActive={false} />
          <Scatter data={lowMarks.map(([x, v]) => ({ x, v }))} dataKey="v" shape={Mark("#2e9e35")} isAnimationActive={false} />

          <Line data={toPoints(forecastPath)} dataKey="v" dot={false} stroke="#4a86f0" strokeWidth={1.5} isAnimationActive={false} />
          <Line data={toPoints(arrowHead)} dataKey="v" dot={false} stroke="#4a86f0" strokeWidth={1.5} isAnimationActive={false} />

          {zonePrices.map((p, i) => (
            <ReferenceDot key={p} x={335.9} y={p} r={0} stroke="none" label={{ value: `(${p.toFixed(5)})`, position: "right", offset: 0, fill: zoneColors[i], fontSize: 13, fontFamily: FONT }} />
          ))}
          {pivotPrices.map((p, i) => (
            <ReferenceDot key={pivotNames[i]} x={291.4} y={p} r={0} stroke="none" label={{ value: `${pivotNames[i]} (${pivotLabels[i]})`, position: "right", offset: 0, fill: "#a8aab2", fontSize: 13, fontFamily: FONT }} />
          ))}
          <ReferenceDot x={312} y={1.0401} shape={Bolt} />
        </ComposedChart>
      </div>

      <div style={{ position: "absolute", left: 0, top: 1005 }}>
        <ComposedChart width={2272} height={111} data={barRows} margin={{ top: 0, right: 10, bottom: 0, left: 65.4 }}>
          <defs>
            <linearGradient id="oscStroke" gradientUnits="userSpaceOnUse" x1="0" y1="0" x2="0" y2="111">
              <stop offset="0.5315" stopColor="#85c78a" />
              <stop offset="0.5315" stopColor="#fa8078" />
            </linearGradient>
          </defs>
          <XAxis dataKey="x" type="number" hide domain={barDomain} allowDataOverflow />
          <YAxis
            orientation="right"
            width={75.6}
            domain={[-86.7, 98.3]}
            ticks={[50, 0, -50]}
            interval={0}
            axisLine={false}
            tickLine={false}
            tickSize={0}
            tickMargin={7}
            tickFormatter={(v: number) => (v < 0 ? "\u2212" + Math.abs(v).toFixed(5) : v.toFixed(5))}
            tick={{ fontSize: 12.5, fontFamily: FONT, fill: "#131722" }}
          />
          <ReferenceLine segment={[{ x: 0, y: 0 }, { x: 312, y: 0 }]} stroke="#787b86" strokeWidth={2} />
          <ReferenceLine segment={[{ x: 14, y: -69 }, { x: 158, y: -70 }]} stroke="#c8c9cf" strokeWidth={2} />
          <Line dataKey="osc" dot={false} stroke="url(#oscStroke)" strokeWidth={3.5} isAnimationActive={false} />
          <ReferenceLine segment={[{ x: 193.8, y: 86.7 }, { x: 300, y: 40 }]} stroke="#ff9800" strokeWidth={2} />
        </ComposedChart>
      </div>

      <div style={{ position: "absolute", left: 0, top: 1116 }}>
        <ComposedChart width={2272} height={105.7} data={barRows} margin={{ top: 0, right: 10, bottom: 0, left: 0 }}>
          <XAxis
            dataKey="x"
            type="number"
            domain={barDomain}
            allowDataOverflow
            ticks={timeTicks}
            interval={0}
            height={27.4}
            axisLine={false}
            tickLine={false}
            tick={TimeTick}
          />
          <YAxis
            yAxisId="l"
            orientation="left"
            width={65.4}
            domain={[-11.2, 114.6]}
            ticks={[100, 50, 0]}
            interval={0}
            axisLine={false}
            tickLine={false}
            tickSize={0}
            tickMargin={7}
            tickFormatter={(v: number) => v.toFixed(2)}
            tick={{ fontSize: 12.5, fontFamily: FONT, fill: "#131722" }}
          />
          <YAxis
            yAxisId="r"
            orientation="right"
            width={75.6}
            domain={[-11.2, 114.6]}
            ticks={[100, 50, 0]}
            interval={0}
            axisLine={false}
            tickLine={false}
            tickSize={0}
            tickMargin={7}
            tickFormatter={(v: number) => v.toFixed(2)}
            tick={{ fontSize: 12.5, fontFamily: FONT, fill: "#131722" }}
          />
          <ReferenceArea yAxisId="r" y1={45.5} y2={54.5} fill="#787b86" fillOpacity={0.05} stroke="none" />
          <ReferenceLine yAxisId="r" y={80} stroke="#f23645" />
          <ReferenceLine yAxisId="r" y={54.5} stroke="#787b86" />
          <ReferenceLine yAxisId="r" y={50} stroke="#b2b5be" strokeDasharray="5 4" />
          <ReferenceLine yAxisId="r" y={45.5} stroke="#787b86" />
          <ReferenceLine yAxisId="r" y={20.5} stroke="#4caf50" />
          <Line yAxisId="l" data={toPoints(slowK)} dataKey="v" dot={false} stroke="none" isAnimationActive={false} />
          <Line yAxisId="r" data={toPoints(slowK)} dataKey="v" dot={false} stroke="#4caf50" strokeOpacity={0.85} strokeWidth={1.3} isAnimationActive={false} />
          <Line yAxisId="r" data={toPoints(slowD)} dataKey="v" dot={false} stroke="#f23645" strokeOpacity={0.85} strokeWidth={1.3} isAnimationActive={false} />
          <Line yAxisId="r" data={toPoints(fastK)} dataKey="v" dot={false} stroke="#4caf50" strokeWidth={1} isAnimationActive={false} />
          <Line yAxisId="r" data={toPoints(fastD)} dataKey="v" dot={false} stroke="#f23645" strokeWidth={1} isAnimationActive={false} />
        </ComposedChart>
      </div>

      {frameLine({ left: 65, top: 27, width: 1, height: 1195, background: "#787b86" })}
      {frameLine({ left: 66, top: 1005, width: 2120, height: 1, background: "#e0e3eb" })}
      {frameLine({ left: 66, top: 1116, width: 2120, height: 1, background: "#e0e3eb" })}
      {frameLine({ left: 2187, top: 1005, width: 74, height: 1, background: "#e0e3eb" })}
      {frameLine({ left: 2187, top: 1116, width: 74, height: 1, background: "#e0e3eb" })}
      {frameLine({ left: 11, top: 1194, width: 2250, height: 1, background: "#787b86" })}
      {frameLine({ left: 11, top: 1221, width: 2250, height: 1, background: "#787b86" })}
      {frameLine({ left: 10, top: 27, width: 2252, height: 1, background: "#5d606b" })}

      <div style={{ position: "absolute", left: 2186.5, top: 1195, width: 75, height: 26, background: "#fff" }} />
      {frameLine({ left: 2186, top: 27, width: 1, height: 1195, background: "#787b86" })}

      <div style={{ position: "absolute", left: 28, top: 1198, width: 20, height: 20, borderRadius: 10, background: "#f0f3fa", color: "#6a6d78", fontSize: 12, lineHeight: "20px", textAlign: "center" }}>Z</div>
      <div style={{ position: "absolute", left: 2214, top: 1198, width: 20, height: 20, borderRadius: 10, background: "#f0f3fa", color: "#6a6d78", fontSize: 12, lineHeight: "20px", textAlign: "center" }}>A</div>

      <div style={{ position: "absolute", left: 2190, top: 31, width: 58, height: 24, border: "1.5px solid #f0f3fa", borderRadius: 4, background: "#fff", color: "#131722", fontSize: 12.5, lineHeight: "24px", paddingLeft: 8 }}>USD</div>

      <div style={{ position: "absolute", left: 2186.5, top: 445, width: 57, height: 30, background: "#008000", color: "#fff", fontSize: 12.5, lineHeight: "14.5px", paddingLeft: 8, boxSizing: "border-box", paddingTop: 1 }}>
        1.07837
        <br />
        59:30
      </div>

      <svg style={{ position: "absolute", left: 10, top: 1234 }} width={22} height={12} viewBox="0 0 22 12">
        <path d="M0 0H9V11H5V4H0Z" fill="#e6e8ee" />
        <circle cx="12" cy="2" r="2" fill="#e6e8ee" />
        <path d="M15 0H20L15 11H10Z" fill="#e6e8ee" />
      </svg>
      <div style={{ position: "absolute", left: 34, top: 1231, fontSize: 15, color: "#d5d8e0", whiteSpace: "nowrap" }}>TradingView</div>
    </div>
  );
};

export default App;
